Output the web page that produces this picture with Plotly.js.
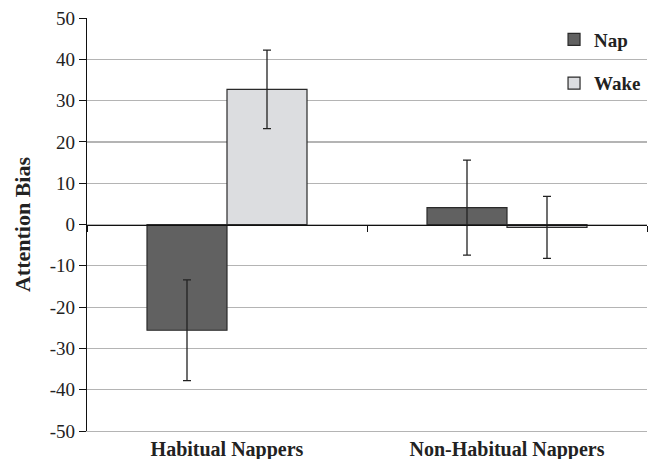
<!DOCTYPE html>
<html>
<head>
<meta charset="utf-8">
<script src="https://cdn.plot.ly/plotly-3.0.1.min.js"></script>
<style>html,body{margin:0;padding:0;background:#fff;}#chart{width:649px;height:459px;}</style>
</head>
<body>
<div id="chart"></div>
<script>
const categories = ["Habitual Nappers", "Non-Habitual Nappers"];
const napValues = [-25.6, 4.1];
const napErrors = [12.2, 11.5];
const wakeValues = [32.7, -0.7];
const wakeErrors = [9.5, 7.5];
const yTickVals = [-50, -40, -30, -20, -10, 0, 10, 20, 30, 40, 50];
const yTickText = ["-50", "-40", "-30", "-20", "-10", "0", "10", "20", "30", "40", "50"];

const serif = "Liberation Serif";
const catIdx = categories.map((c, i) => i);
const barW = 0.2857;

const traces = [
  {
    type: "bar", name: "Nap", x: catIdx, y: napValues, xaxis: "x", yaxis: "y",
    width: barW, offset: -barW,
    marker: {color: "#616161", line: {color: "#2a2a2a", width: 1.2}},
    error_y: {type: "data", array: napErrors, visible: true, color: "#222", thickness: 1.3, width: 4},
    legendgroup: "a"
  },
  {
    type: "bar", name: "Wake", x: catIdx, y: wakeValues, xaxis: "x2", yaxis: "y",
    width: barW, offset: 0,
    marker: {color: "#dcdde0", line: {color: "#2a2a2a", width: 1.2}},
    error_y: {type: "data", array: wakeErrors, visible: true, color: "#222", thickness: 1.3, width: 4},
    legendgroup: "b"
  }
];

const layout = {
  width: 649, height: 459,
  margin: {l: 87, r: 2, t: 18, b: 28},
  paper_bgcolor: "#fff", plot_bgcolor: "#fff",
  barmode: "overlay",
  font: {family: serif, color: "#222"},
  showlegend: true,
  legend: {
    x: 0.834, y: 0.994, xanchor: "left", yanchor: "top",
    font: {family: serif, size: 19, color: "#222", weight: "bold"},
    traceorder: "grouped", tracegroupgap: 16, bgcolor: "rgba(0,0,0,0)",
    itemwidth: 30
  },
  xaxis: {
    range: [-0.5, 1.5], anchor: "y", side: "bottom",
    tickmode: "array", tickvals: catIdx, ticktext: categories, ticks: "",
    tickfont: {family: serif, size: 20, color: "#222", weight: "bold"},
    showline: true, linecolor: "#b4b4b4", linewidth: 1.2,
    showgrid: false, zeroline: false, fixedrange: true
  },
  xaxis2: {
    range: [-0.5, 1.5], overlaying: "x", anchor: "free", position: 0.5,
    showline: true, linecolor: "#111", linewidth: 1.2,
    tickmode: "array", tickvals: [-0.5, 0.5, 1.5], ticks: "outside", ticklen: 6, tickcolor: "#111",
    showticklabels: false, showgrid: false, zeroline: false, fixedrange: true
  },
  yaxis: {
    range: [-50, 50], tickmode: "array", tickvals: yTickVals, ticktext: yTickText,
    ticks: "outside", ticklen: 7, tickcolor: "#111",
    showline: true, linecolor: "#111", linewidth: 1.2,
    showgrid: true, gridcolor: "#b4b4b4", gridwidth: 1.2,
    zeroline: false,
    tickfont: {family: serif, size: 19, color: "#222"},
    title: {text: "Attention Bias", font: {family: serif, size: 22, color: "#222", weight: "bold"}, standoff: 13}
  }
};

Plotly.newPlot("chart", traces, layout, {displayModeBar: false, staticPlot: true});
</script>
</body>
</html>
